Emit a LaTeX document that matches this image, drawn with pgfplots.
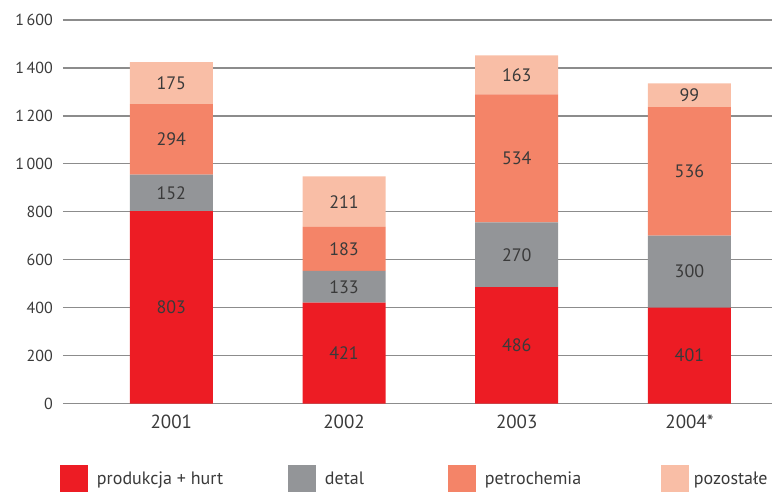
\documentclass[border=0pt]{standalone}
\usepackage{fontspec}
\setmainfont{PT Sans}
\usepackage{pgfplots}
\pgfplotsset{compat=1.18}
\definecolor{cRed}{RGB}{237,28,36}
\definecolor{cGrey}{RGB}{147,149,152}
\definecolor{cSalmon}{RGB}{244,132,104}
\definecolor{cLight}{RGB}{249,190,166}
\definecolor{cText}{RGB}{58,58,58}
\definecolor{cGrid}{RGB}{140,140,140}
\begin{document}
\begin{tikzpicture}
\path[use as bounding box] (-63bp,-88.3bp) rectangle (709bp,403.7bp);
\begin{axis}[
  scale only axis, width=709bp, height=383.7bp,
  at={(0,0)}, anchor=south west,
  xmin=-0.627, xmax=3.478, ymin=0, ymax=1600,
  ybar stacked, bar width=83bp,
  axis line style={draw=none}, major tick length=0pt,
  ytick={0,200,...,1600}, xtick={0,1,2,3},
  xticklabels={2001,2002,2003,2004*},
  ymajorgrids, major grid style={cGrid, line width=1.2bp},
  /pgf/number format/assume math mode=true,
  /pgf/number format/1000 sep={\,},
  yticklabel style={anchor=east, inner sep=0pt, xshift=-10bp, text=cText, font=\fontsize{16bp}{19bp}\selectfont},
  xticklabel style={anchor=north, inner sep=0pt, yshift=-11bp, text=cText, font=\fontsize{19bp}{23bp}\selectfont},
  legend columns=4,
  legend image code/.code={\fill[#1] (0bp,-13.5bp) rectangle (28bp,13.5bp);},
  legend style={at={(axis description cs:0,0)}, anchor=west, xshift=-3bp, yshift=-74.8bp,
    draw=none, fill=none, inner sep=0pt, outer sep=0pt, column sep=0pt, row sep=0pt,
    nodes={inner sep=0pt, text=cText, font=\fontsize{18bp}{22bp}\selectfont}},
]
\addplot[fill=cRed, draw=none] coordinates {(0,803) (1,421) (2,486) (3,401)};
\addlegendentry{\hspace{9bp}\makebox[191bp][l]{produkcja + hurt}}
\addplot[fill=cGrey, draw=none] coordinates {(0,152) (1,133) (2,270) (3,300)};
\addlegendentry{\hspace{9bp}\makebox[123bp][l]{detal}}
\addplot[fill=cSalmon, draw=none] coordinates {(0,294) (1,183) (2,534) (3,536)};
\addlegendentry{\hspace{9bp}\makebox[176bp][l]{petrochemia}}
\addplot[fill=cLight, draw=none] coordinates {(0,175) (1,211) (2,163) (3,99)};
\addlegendentry{\hspace{5bp}pozostałe}
\end{axis}
\begin{axis}[
  scale only axis, width=709bp, height=383.7bp,
  at={(0,0)}, anchor=south west,
  xmin=-0.627, xmax=3.478, ymin=0, ymax=1600,
  hide axis,
]
\addplot[draw=none, mark=none, nodes near coords, point meta=explicit symbolic,
  every node near coord/.append style={anchor=center, inner sep=0pt, text=cText, font=\fontsize{18bp}{22bp}\selectfont}]
  coordinates {
  (0,401.5)[803] (0,879)[152] (0,1102)[294] (0,1336.5)[175]
  (1,210.5)[421] (1,487.5)[133] (1,645.5)[183] (1,842.5)[211]
  (2,243)[486] (2,621)[270] (2,1023)[534] (2,1371.5)[163]
  (3,200.5)[401] (3,551)[300] (3,969)[536] (3,1286.5)[99]
  };
\end{axis}
\end{tikzpicture}
\end{document}
